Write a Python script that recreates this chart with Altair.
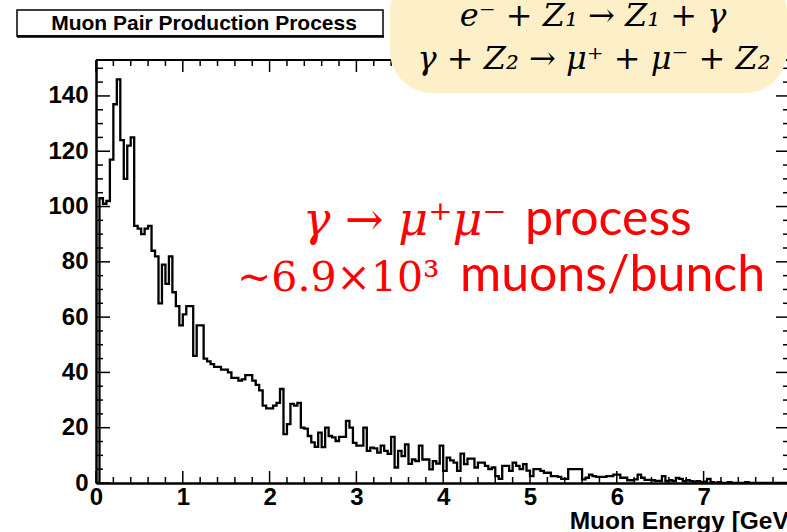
import altair as alt
import pandas as pd
import numpy as np

# ---------------- data ----------------
bin_width = 0.04  # GeV
counts = [
    0, 103, 101, 102, 117, 137, 146, 124, 110, 122,
    125, 93, 92, 90, 92, 93, 84, 82, 65, 79,
    72, 82, 69, 64, 57, 61, 64, 64, 46, 57,
    57, 45, 44, 43, 42, 42, 41, 41, 40, 38,
    38, 37, 37.5, 39, 39, 37, 35.5, 33.5, 28, 27,
    27, 28, 29, 34, 17.7, 21.3, 28.6, 28, 29, 20,
    19.7, 17, 14.7, 13.1, 18.2, 13, 20, 17, 16.5, 15.2,
    16.7, 16.7, 22.5, 20, 14.5, 13.5, 13.5, 20, 11.6, 12.8,
    12.5, 11, 13.5, 11.6, 10.5, 16.7, 5.6, 11.6, 9.7, 14,
    6.9, 8.5, 7.9, 13.5, 8.5, 8.5, 4.9, 7.9, 7, 13.5,
    4.4, 9.2, 8.2, 7.4, 4.4, 10.6, 6.8, 8.8, 8.8, 5.6,
    7.4, 7.4, 6.2, 5, 5.6, 2.5, 1.5, 6.2, 6.2, 4.4,
    7.4, 6.2, 5, 6.8, 4.5, 2.5, 5, 5, 4.4, 3.7,
    3.7, 2.5, 2.5, 2.2, 1.5, 1.5, 5, 5, 5, 5,
    1.3, 1.9, 3, 2.5, 2.2, 2.2, 2.2, 2.5, 2.5, 3,
    3, 1.9, 1.9, 1, 1, 1.3, 3, 1.9, 1.1, 1.1,
    1, 0.8, 0.8, 2.5, 0.7, 1, 0.7, 1.8, 1.5, 0.7,
    1, 0.7, 0.5, 0.7, 0.3, 0.5, 1.5, 0.3, 0, 0.3,
    0, 0, 0.3, 0, 0, 0, 0, 0.3, 0, 0,
    0, 0, 0, 0, 0, 0, 0, 0, 0, 0,
]

x_major = [0, 1, 2, 3, 4, 5, 6, 7, 8]
x_labels = [0, 1, 2, 3, 4, 5, 6, 7]
y_major = [0, 20, 40, 60, 80, 100, 120, 140]

title_text = ["Muon Pair Production Process"]
xtitle_text = ["Muon Energy [GeV]"]
formula_line1 = ["e\u207b + Z\u2081 \u2192 Z\u2081 + \u03b3"]
formula_line2 = ["\u03b3 + Z\u2082 \u2192 \u03bc\u207a + \u03bc\u207b + Z\u2082"]
red_math1 = ["\u03b3 \u2192 \u03bc\u207a\u03bc\u207b"]
red_word1 = ["process"]
red_math2 = ["~6.9\u00d710\u00b3"]
red_word2 = ["muons/bunch"]

# ---------------- build tables ----------------
edges = [round(i * bin_width, 2) for i in range(len(counts) + 1)]
hist_df = pd.DataFrame({"E": edges, "N": counts + [counts[-1]]})

x_minor = [round(v, 2) for v in np.arange(0, 8.01, 0.2) if abs(v - round(v)) > 1e-6]
y_minor = [v for v in range(0, 155, 5) if v % 20 != 0]

W, H = 691, 423
XMAX = W / 86.8
YMAX = 153.0

xscale = alt.Scale(domain=[0, XMAX], nice=False, zero=False)
yscale = alt.Scale(domain=[0, YMAX], nice=False, zero=True)

FONT = "Liberation Sans"

x_axis = alt.Axis(values=x_labels, ticks=False, tickSize=0, grid=False,
                  domain=True, domainColor="black", domainWidth=2.5,
                  labelFont=FONT, labelFontWeight="bold", labelFontSize=24,
                  labelColor="black", labelPadding=2, labelFlush=False,
                  labelOverlap=False, title=None)
y_axis = alt.Axis(values=y_major, ticks=False, tickSize=0, grid=False,
                  domain=True, domainColor="black", domainWidth=2.5,
                  labelFont=FONT, labelFontWeight="bold", labelFontSize=24,
                  labelColor="black", labelPadding=8, labelFlush=False,
                  labelOverlap=False, title=None)

hist = alt.Chart(hist_df).mark_line(
    interpolate="step-after", color="black", strokeWidth=2.3, clip=True
).encode(
    x=alt.X("E:Q", scale=xscale, axis=x_axis),
    y=alt.Y("N:Q", scale=yscale, axis=y_axis),
)

def xticks(vals, length, top=False):
    df = pd.DataFrame({"v": vals})
    if top:
        y0, y1 = 0, length
    else:
        y0, y1 = H, H - length
    return alt.Chart(df).mark_rule(color="black", strokeWidth=1.5).encode(
        x=alt.X("v:Q", scale=xscale, axis=None),
        y=alt.value(y0), y2=alt.value(y1))

def yticks(vals, length, right=False):
    df = pd.DataFrame({"v": vals})
    if right:
        x0, x1 = W + 3, W + 3 - length
    else:
        x0, x1 = 0, length
    return alt.Chart(df).mark_rule(color="black", strokeWidth=1.5).encode(
        y=alt.Y("v:Q", scale=yscale, axis=None),
        x=alt.value(x0), x2=alt.value(x1))

one = pd.DataFrame({"a": [0]})

top_frame = alt.Chart(one).mark_rule(color="black", strokeWidth=2).encode(
    x=alt.value(0), x2=alt.value(W + 3), y=alt.value(0))

title_box = alt.Chart(one).mark_rect(fill="white", stroke="black", strokeWidth=1.5).encode(
    x=alt.value(-79), x2=alt.value(287), y=alt.value(-50), y2=alt.value(-24))
title_shadow = alt.Chart(one).mark_rule(color="black", strokeWidth=2.5).encode(
    x=alt.value(-79), x2=alt.value(288), y=alt.value(-23.5))
title = alt.Chart(pd.DataFrame({"t": title_text})).mark_text(
    font=FONT, fontWeight="bold", fontSize=21, align="center", baseline="alphabetic",
    color="black").encode(text="t:N", x=alt.value(108), y=alt.value(-30))

bubble = alt.Chart(one).mark_rect(fill="#FDF0C9", cornerRadius=42).encode(
    x=alt.value(294), x2=alt.value(691), y=alt.value(-90), y2=alt.value(33))

SERIF = "DejaVu Serif"
f1 = alt.Chart(pd.DataFrame({"t": formula_line1})).mark_text(
    font=SERIF, fontStyle="italic", fontSize=32, align="center", baseline="alphabetic",
    color="black").encode(text="t:N", x=alt.value(497), y=alt.value(-34))
f2 = alt.Chart(pd.DataFrame({"t": formula_line2})).mark_text(
    font=SERIF, fontStyle="italic", fontSize=32, align="center", baseline="alphabetic",
    color="black").encode(text="t:N", x=alt.value(498), y=alt.value(9))

RED = "#FF0000"
SANS = "Lato"
r1m = alt.Chart(pd.DataFrame({"t": red_math1})).mark_text(
    font=SERIF, fontStyle="italic", fontSize=46, align="left", baseline="alphabetic",
    color=RED).encode(text="t:N", x=alt.value(207), y=alt.value(175))
r1w = alt.Chart(pd.DataFrame({"t": red_word1})).mark_text(
    font=SANS, fontSize=50, align="left", baseline="alphabetic",
    color=RED).encode(text="t:N", x=alt.value(429), y=alt.value(175))
r2m = alt.Chart(pd.DataFrame({"t": red_math2})).mark_text(
    font=SERIF, fontSize=41, align="left", baseline="alphabetic",
    color=RED).encode(text="t:N", x=alt.value(141), y=alt.value(231))
r2w = alt.Chart(pd.DataFrame({"t": red_word2})).mark_text(
    font=SANS, fontSize=50, align="left", baseline="alphabetic",
    color=RED).encode(text="t:N", x=alt.value(364), y=alt.value(231))

xtitle = alt.Chart(pd.DataFrame({"t": xtitle_text})).mark_text(
    font=FONT, fontWeight="bold", fontSize=24.5, align="right", baseline="alphabetic",
    color="black").encode(text="t:N", x=alt.value(701), y=alt.value(469))

chart = alt.layer(
    hist,
    xticks(x_major, 12), xticks(x_minor, 6),
    xticks(x_major, 12, top=True), xticks(x_minor, 6, top=True),
    yticks(y_major, 14), yticks(y_minor, 7),
    yticks(y_major, 14, right=True), yticks(y_minor, 7, right=True),
    top_frame,
    title_box, title_shadow, title,
    bubble, f1, f2,
    r1m, r1w, r2m, r2w,
    xtitle,
).resolve_axis(
    x="independent", y="independent"
).properties(
    width=W, height=H,
    autosize=alt.AutoSizeParams(type="none"),
    padding={"left": 96, "top": 60, "right": 0, "bottom": 49},
    background="white",
).configure_view(stroke=None)

chart.save("out.html", embed_options={"renderer": "svg", "actions": False})
